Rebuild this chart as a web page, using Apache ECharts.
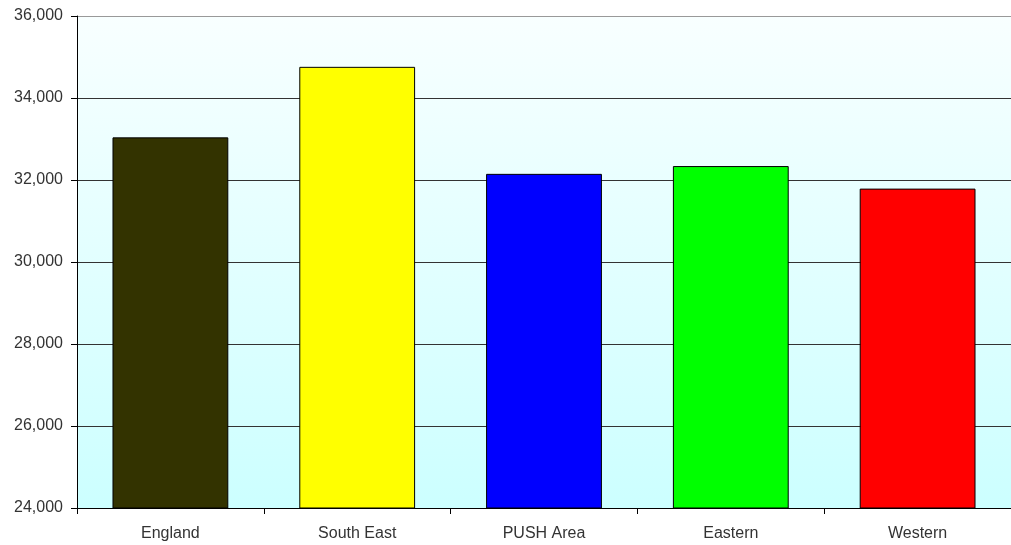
<!DOCTYPE html>
<html><head><meta charset="utf-8">
<script src="https://cdn.jsdelivr.net/npm/echarts@6/dist/echarts.min.js"></script>
<style>html,body{margin:0;padding:0;background:#fff}#c{width:1011px;height:545px}</style>
</head><body><div id="c"></div>
<script>
const categories = ['England', 'South East', 'PUSH Area', 'Eastern', 'Western'];
const values = [33040, 34760, 32150, 32340, 31790];
const barColors = ['#333300', '#FFFF00', '#0000FF', '#00FF00', '#FF0000'];
const yMin = 24000, yMax = 36000, yStep = 2000;

const chart = echarts.init(document.getElementById('c'), null, {renderer: 'canvas'});
chart.setOption({
  animation: false,
  grid: {
    left: 77, top: 16, width: 939, bottom: 37,
    show: true, borderWidth: 0,
    backgroundColor: new echarts.graphic.LinearGradient(0, 0, 0, 1, [
      {offset: 0, color: '#F8FFFF'}, {offset: 1, color: '#CCFFFF'}
    ])
  },
  xAxis: {
    type: 'category', data: categories,
    axisLine: {show: true, lineStyle: {color: '#000', width: 1}},
    axisTick: {show: true, alignWithLabel: false, length: 6, lineStyle: {color: '#000'}},
    axisLabel: {color: '#333', fontFamily: 'Liberation Sans', fontSize: 16, margin: 18}
  },
  yAxis: {
    type: 'value', min: yMin, max: yMax, interval: yStep,
    axisLine: {show: true, lineStyle: {color: '#000', width: 1}},
    axisTick: {show: true, length: 6, lineStyle: {color: '#000'}},
    axisLabel: {color: '#333', fontFamily: 'Liberation Sans', fontSize: 16, margin: 14,
      formatter: v => v.toLocaleString('en-US')},
    splitLine: {show: true, lineStyle: {color: ['#333','#333','#333','#333','#333','#333','#999'], width: 1}}
  },
  series: [{
    type: 'bar',
    data: values.map((v, i) => ({value: v, itemStyle: {color: barColors[i]}})),
    barCategoryGap: '38%',
    itemStyle: {borderColor: '#000', borderWidth: 1}
  }]
});
</script></body></html>
